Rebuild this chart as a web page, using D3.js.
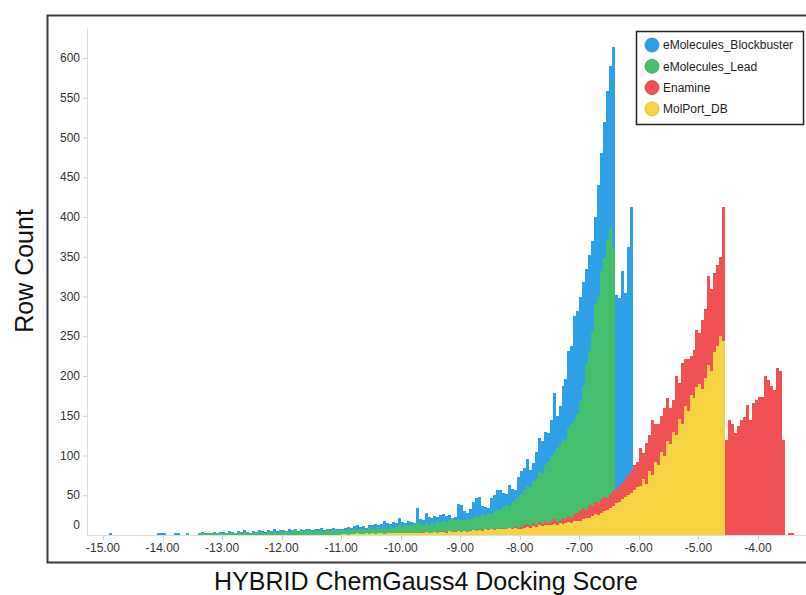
<!DOCTYPE html>
<html>
<head>
<meta charset="utf-8">
<script src="https://cdn.jsdelivr.net/npm/d3@7"></script>
<style>
  body { margin: 0; background: #fff; }
  text { font-family: "Liberation Sans", Arial, sans-serif; }
</style>
</head>
<body>
<div id="chart"></div>
<script>
// Overlaid histograms of docking scores, bin width 0.05

var binWidth = 0.05;

var seriesNames = ["eMolecules_Blockbuster", "eMolecules_Lead", "Enamine", "MolPort_DB"];
var seriesColors = ["#2DA0E8", "#44BF6E", "#F05152", "#F5D342"];

// first bin left edge for each series
var blockbusterStart = -15.00,
  leadStart = -14.00,
  enamineStart = -10.50,
  molportStart = -11.00;

var blockbuster = [
  0,0,2,0,0,0,0,0,0,0, 0,0,0,0,0,0,0,0,3,2,
  2,0,0,0,2,2,0,0,2,0, 0,0,3,4,3,2,3,4,3,4,
  4,3,5,4,3,5,4,6,4,3, 5,4,6,5,4,6,5,7,5,6,
  6,5,7,6,8,5,7,6,8,7, 6,8,7,9,6,8,7,9,8,7,
  8,9,10,9,11,12,10,11,9,12, 13,14,12,14,17,15,14,16,15,22,
  16,15,17,16,15,34,20,19,28,23, 22,24,23,25,26,24,25,22,23,39,
  38,30,28,33,41,47,48,36,35,34, 46,50,57,56,53,52,63,58,57,73,
  80,84,96,82,90,104,122,118,130,128, 145,178,150,162,188,196,232,238,276,282,
  300,318,334,352,370,400,440,481,520,558, 590,614,302,298,332,305,362,413
];

var lead = [
  0,0,0,0,0,0,0,0,2,0, 0,0,2,3,3,2,2,3,2,3,
  3,2,3,3,2,4,3,4,3,3, 4,3,4,4,3,5,4,4,3,5,
  4,5,4,5,6,4,5,5,6,5, 4,6,5,6,5,7,5,6,6,5,
  6,5,7,6,8,6,7,8,6,9, 7,8,10,7,9,8,11,9,10,12,
  10,12,11,13,12,16,14,13,15,12, 16,14,17,15,18,16,19,21,18,20,
  19,18,22,20,21,24,23,26,25,28, 27,30,32,31,35,38,37,42,45,48,
  52,56,62,60,68,72,80,78,88,92, 99,104,110,115,122,118,135,140,146,152,
  168,188,215,232,255,290,300,332,348,372, 386,362
];

var enamine = [
  1,0,2,1,0,2,1,2,1,2,
  2,1,3,2,2,3,2,4,3,2, 3,4,3,3,5,4,3,4,5,4,
  4,5,4,6,5,5,7,6,5,7, 6,8,7,6,9,8,7,9,10,9,
  10,12,14,11,15,13,16,14,18,15, 17,20,16,19,22,20,24,21,26,28,
  30,34,32,38,36,42,40,45,48,46, 52,55,58,62,66,70,76,80,88,92,
  109,103,116,126,145,139,140,150,160,172, 160,170,200,191,216,221,221,225,233,258,
  254,270,284,326,309,330,340,350,412,120, 145,140,128,137,145,149,164,145,166,170,
  174,174,200,195,187,183,210,206,120,0, 2,2
];

var molport = [
  1,1,0,1,1,2,1,1,2,1, 2,1,2,2,1,2,2,3,2,2,
  2,2,3,2,3,2,3,3,4,3, 3,4,3,4,4,3,5,4,4,5,
  4,5,4,5,6,5,6,5,7,6, 7,6,8,7,8,7,9,8,9,8,
  8,9,10,9,11,10,12,11,12,13, 12,14,13,15,14,15,16,15,17,18,
  18,20,22,21,24,26,25,28,30,32, 34,36,40,42,45,48,50,53,56,60,
  62,70,64,80,76,92,88,104,100,118, 114,130,126,146,140,162,156,176,172,186,
  190,184,198,214,206,230,238,250,244
];

var xTicks = [-15, -14, -13, -12, -11, -10, -9, -8, -7, -6, -5, -4];
var yTicks = [0, 50, 100, 150, 200, 250, 300, 350, 400, 450, 500, 550, 600];

var width = 806, height = 595;

var svg = d3.select("#chart").append("svg")
  .attr("width", width)
  .attr("height", height);

svg.append("rect").attr("width", width).attr("height", height).attr("fill", "#fff");

// scales
var x = d3.scaleLinear().domain([-15, -4]).range([103, 758]);
var y = d3.scaleLinear().domain([0, 600]).range([535, 58]);

// outer frame (right side runs off the picture)
svg.append("path")
  .attr("d", "M810,15.5 H47.5 V562.5 H810")
  .attr("fill", "none")
  .attr("stroke", "#3a3a3a")
  .attr("stroke-width", 2);

// bars, back to front
var series = [
  {start: blockbusterStart, values: blockbuster},
  {start: leadStart, values: lead},
  {start: enamineStart, values: enamine},
  {start: molportStart, values: molport}
];

var bars = svg.append("g").attr("shape-rendering", "crispEdges");
series.forEach(function(s, si) {
  bars.append("g")
    .attr("fill", seriesColors[si])
    .selectAll("rect")
    .data(s.values.map(function(v, i) { return {x0: s.start + i*binWidth, v: v}; })
      .filter(function(d) { return d.v > 0; }))
    .enter().append("rect")
    .attr("x", function(d) { return Math.round(x(d.x0)); })
    .attr("width", function(d) { return Math.round(x(d.x0 + binWidth)) - Math.round(x(d.x0)); })
    .attr("y", function(d) { return Math.round(y(d.v)); })
    .attr("height", function(d) { return y(0) - Math.round(y(d.v)); });
});

// y axis
var yAxis = svg.append("g");
yAxis.append("line")
  .attr("x1", 87.5).attr("x2", 87.5)
  .attr("y1", 28).attr("y2", 536)
  .attr("stroke", "#dcdcdc");
yAxis.selectAll("line.tick").data(yTicks.filter(function(d) { return d > 0; }))
  .enter().append("line")
  .attr("class", "tick")
  .attr("x1", 83).attr("x2", 87)
  .attr("y1", function(d) { return y(d) + 0.5; })
  .attr("y2", function(d) { return y(d) + 0.5; })
  .attr("stroke", "#d0d0d0");
yAxis.selectAll("text").data(yTicks)
  .enter().append("text")
  .attr("x", 80)
  .attr("y", function(d) { return d === 0 ? y(d) - 10 : y(d); })
  .attr("dy", "0.35em")
  .attr("text-anchor", "end")
  .attr("font-size", 12)
  .attr("fill", "#333")
  .text(function(d) { return d; });

// x axis
var xAxis = svg.append("g");
xAxis.append("line")
  .attr("x1", 87).attr("x2", 806)
  .attr("y1", 535.5).attr("y2", 535.5)
  .attr("stroke", "#dcdcdc");
xAxis.selectAll("line.tick").data(xTicks)
  .enter().append("line")
  .attr("class", "tick")
  .attr("x1", function(d) { return Math.round(x(d)) + 0.5; })
  .attr("x2", function(d) { return Math.round(x(d)) + 0.5; })
  .attr("y1", 536).attr("y2", 540)
  .attr("stroke", "#d0d0d0");
xAxis.selectAll("text").data(xTicks)
  .enter().append("text")
  .attr("x", function(d) { return x(d); })
  .attr("y", 552)
  .attr("text-anchor", "middle")
  .attr("font-size", 12)
  .attr("fill", "#333")
  .text(function(d) { return d.toFixed(2); });

// axis titles
svg.append("text")
  .attr("x", 426)
  .attr("y", 590)
  .attr("text-anchor", "middle")
  .attr("font-size", 25)
  .attr("fill", "#111")
  .text("HYBRID ChemGauss4 Docking Score");

svg.append("text")
  .attr("transform", "translate(33,271) rotate(-90)")
  .attr("text-anchor", "middle")
  .attr("font-size", 25)
  .attr("fill", "#111")
  .text("Row Count");

// legend
var legend = svg.append("g");
legend.append("rect")
  .attr("x", 636.5).attr("y", 31.5)
  .attr("width", 167).attr("height", 93)
  .attr("fill", "#fff")
  .attr("stroke", "#222")
  .attr("stroke-width", 1.5);

var item = legend.selectAll("g.item").data(seriesNames)
  .enter().append("g")
  .attr("class", "item")
  .attr("transform", function(d, i) { return "translate(652," + (45 + i*21.3) + ")"; });
item.append("circle")
  .attr("r", 7)
  .attr("fill", function(d, i) { return seriesColors[i]; })
  .attr("stroke", function(d, i) { return d3.color(seriesColors[i]).darker(0.4); })
  .attr("stroke-width", 0.8);
item.append("text")
  .attr("x", 11)
  .attr("dy", "0.35em")
  .attr("font-size", 12)
  .attr("fill", "#222")
  .text(function(d) { return d; });
</script>
</body>
</html>
